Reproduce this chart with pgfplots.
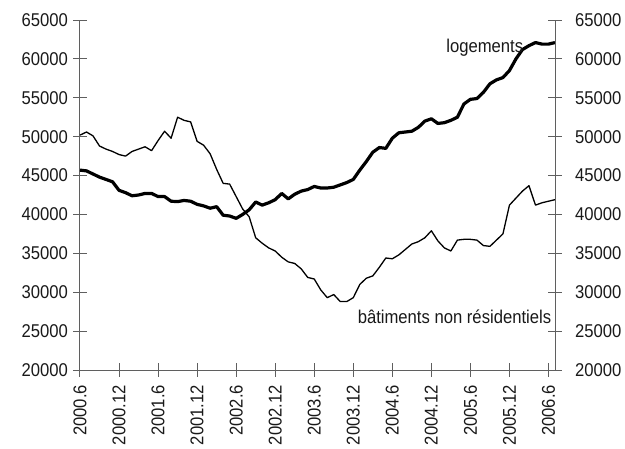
\documentclass[border=0pt]{standalone}
\usepackage{fontspec}
\setmainfont{Liberation Sans}[FakeStretch=0.9]
\usepackage{pgfplots}
\usepackage{pgfplotstable}
\pgfplotsset{compat=1.18}
\definecolor{axgray}{RGB}{95,95,95}
\definecolor{txt}{RGB}{25,25,25}
\pgfplotstableread{
i log bat
0 45700 50200
1 45600 50600
2 45200 50100
3 44800 48800
4 44500 48400
5 44200 48100
6 43100 47700
7 42800 47500
8 42400 48100
9 42500 48400
10 42700 48700
11 42700 48200
12 42300 49500
13 42300 50700
14 41700 49800
15 41650 52500
16 41800 52100
17 41700 51900
18 41300 49400
19 41100 48900
20 40800 47800
21 41000 45800
22 39900 44000
23 39800 43900
24 39500 42300
25 40000 40700
26 40600 39700
27 41600 37000
28 41200 36300
29 41500 35700
30 41900 35300
31 42700 34500
32 42000 33900
33 42600 33700
34 43000 33000
35 43200 31900
36 43600 31700
37 43400 30300
38 43400 29300
39 43500 29700
40 43800 28800
41 44100 28800
42 44500 29300
43 45700 31000
44 46800 31800
45 48000 32100
46 48600 33200
47 48500 34400
48 49800 34300
49 50500 34800
50 50600 35500
51 50700 36200
52 51200 36500
53 52000 37000
54 52300 37900
55 51700 36600
56 51800 35700
57 52100 35300
58 52500 36700
59 54200 36800
60 54800 36800
61 54900 36700
62 55700 36000
63 56800 35900
64 57300 36700
65 57600 37500
66 58500 41200
67 60000 42100
68 61200 43000
69 61700 43700
70 62100 41200
71 61900 41500
72 61900 41700
73 62100 41900
}\data
\pgfplotsset{
  common/.style={
    scale only axis, width=475pt, height=350pt,
    at={(0,0)}, anchor=south west,
    xmin=0, xmax=73, ymin=20000, ymax=65000,
    ytick={20000,25000,...,65000},
    axis line style={axgray, line width=1pt},
    /pgf/number format/assume math mode=true,
    /pgf/number format/1000 sep={},
    scaled y ticks=false,
    tick label style={font=\fontsize{18.5}{20}\selectfont, text=txt},
  },
  tickline/.style={axgray, line width=1pt, line cap=butt, mark=none,
    unbounded coords=jump, forget plot},
}
\begin{document}
\begin{tikzpicture}
\begin{axis}[common, clip=false,
  axis x line*=bottom, axis y line*=left,
  tick align=center, major tick length=13pt,
  every tick/.append style={draw=axgray, line width=1pt},
  xtick={0,6,...,72},
  xticklabels={2000.6,2000.12,2001.6,2001.12,2002.6,2002.12,2003.6,2003.12,2004.6,2004.12,2005.6,2005.12,2006.6},
  x tick label style={rotate=90, anchor=east, xshift=-5pt},
  y tick label style={xshift=-2pt},
]
% tick marks crossing the axes (half length 6.5pt = 1 x unit = 836 y units)
\addplot[tickline] coordinates {
(-1,20000) (1,20000) (nan,nan)
(-1,25000) (1,25000) (nan,nan)
(-1,30000) (1,30000) (nan,nan)
(-1,35000) (1,35000) (nan,nan)
(-1,40000) (1,40000) (nan,nan)
(-1,45000) (1,45000) (nan,nan)
(-1,50000) (1,50000) (nan,nan)
(-1,55000) (1,55000) (nan,nan)
(-1,60000) (1,60000) (nan,nan)
(-1,65000) (1,65000)};
\addplot[tickline] coordinates {
(72,20000) (74,20000) (nan,nan)
(72,25000) (74,25000) (nan,nan)
(72,30000) (74,30000) (nan,nan)
(72,35000) (74,35000) (nan,nan)
(72,40000) (74,40000) (nan,nan)
(72,45000) (74,45000) (nan,nan)
(72,50000) (74,50000) (nan,nan)
(72,55000) (74,55000) (nan,nan)
(72,60000) (74,60000) (nan,nan)
(72,65000) (74,65000)};
\addplot[tickline] coordinates {
(0,19164) (0,20836) (nan,nan)
(6,19164) (6,20836) (nan,nan)
(12,19164) (12,20836) (nan,nan)
(18,19164) (18,20836) (nan,nan)
(24,19164) (24,20836) (nan,nan)
(30,19164) (30,20836) (nan,nan)
(36,19164) (36,20836) (nan,nan)
(42,19164) (42,20836) (nan,nan)
(48,19164) (48,20836) (nan,nan)
(54,19164) (54,20836) (nan,nan)
(60,19164) (60,20836) (nan,nan)
(66,19164) (66,20836) (nan,nan)
(72,19164) (72,20836)};
\addplot[black, line width=1.3pt, line join=round, mark=none] table[x=i, y=bat] {\data};
\addplot[black, line width=3.2pt, line join=round, mark=none] table[x=i, y=log] {\data};
\node[anchor=east, font=\fontsize{18.5}{20}\selectfont, text=txt, inner sep=1pt] at (axis cs:68.3,61500) {logements};
\node[anchor=east, font=\fontsize{18.5}{20}\selectfont, text=txt, inner sep=1pt] at (axis cs:72.6,26900) {bâtiments non résidentiels};
\end{axis}
\begin{axis}[common,
  axis x line=none, axis y line*=right,
  tick align=center, major tick length=13pt,
  every tick/.append style={draw=axgray, line width=1pt},
  y tick label style={xshift=10pt},
]
\end{axis}
\pgfresetboundingbox
\useasboundingbox (-80pt,-78pt) rectangle (545pt,370pt);
\end{tikzpicture}
\end{document}
